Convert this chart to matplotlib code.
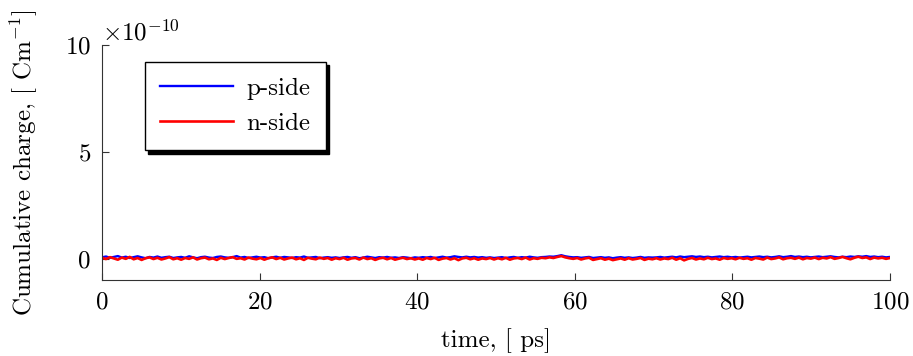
import numpy as np
import matplotlib
matplotlib.use("Agg")
import matplotlib.pyplot as plt
from matplotlib.ticker import ScalarFormatter

# Cumulative charge, units of 1e-10 C/m, sampled evenly over 0..100 ps
p_side = [
    0.06, 0.10, 0.04, 0.08, 0.12, 0.05, 0.09, 0.03, 0.07, 0.11, 0.06, 0.02, 0.08, 0.05, 0.10, 0.04, 0.07, 0.09, 0.03, 0.06,
    0.08, 0.04, 0.11, 0.06, 0.02, 0.07, 0.09, 0.05, 0.03, 0.08, 0.10, 0.06, 0.04, 0.07, 0.12, 0.05, 0.08, 0.03, 0.06, 0.09,
    0.05, 0.07, 0.02, 0.06, 0.09, 0.04, 0.08, 0.06, 0.03, 0.07, 0.05, 0.10, 0.04, 0.06, 0.08, 0.02, 0.05, 0.07, 0.04, 0.06,
    0.03, 0.06, 0.08, 0.04, 0.07, 0.02, 0.05, 0.09, 0.06, 0.03, 0.07, 0.05, 0.08, 0.04, 0.06, 0.03, 0.07, 0.05, 0.02, 0.06,
    0.04, 0.07, 0.05, 0.08, 0.03, 0.06, 0.09, 0.05, 0.07, 0.11, 0.08, 0.06, 0.09, 0.06, 0.08, 0.05, 0.07, 0.04, 0.06, 0.03,
    0.05, 0.07, 0.03, 0.06, 0.08, 0.04, 0.07, 0.05, 0.09, 0.06, 0.04, 0.07, 0.08, 0.10, 0.09, 0.12, 0.16, 0.11, 0.08, 0.06,
    0.07, 0.04, 0.06, 0.08, 0.03, 0.05, 0.07, 0.04, 0.06, 0.02, 0.05, 0.07, 0.04, 0.06, 0.03, 0.05, 0.08, 0.04, 0.06, 0.05,
    0.06, 0.08, 0.05, 0.07, 0.09, 0.06, 0.10, 0.07, 0.09, 0.11, 0.08, 0.10, 0.07, 0.09, 0.06, 0.08, 0.10, 0.07, 0.09, 0.06,
    0.08, 0.05, 0.07, 0.09, 0.06, 0.08, 0.10, 0.07, 0.09, 0.06, 0.08, 0.11, 0.07, 0.09, 0.12, 0.08, 0.10, 0.07, 0.09, 0.06,
    0.08, 0.10, 0.07, 0.09, 0.11, 0.08, 0.06, 0.09, 0.07, 0.10, 0.08, 0.11, 0.09, 0.12, 0.08, 0.10, 0.07, 0.09, 0.06, 0.08,
]
n_side = [
    0.04, -0.02, 0.07, 0.01, -0.05, 0.05, -0.01, 0.08, -0.03, 0.03, -0.06, 0.02, 0.06, -0.02, 0.04, -0.04, 0.01, 0.07, -0.03, 0.02,
    -0.05, 0.03, -0.01, 0.06, -0.04, 0.02, 0.05, -0.03, 0.01, -0.06, 0.04, -0.02, 0.03, 0.07, -0.01, 0.02, -0.04, 0.05, 0.00, -0.03,
    0.03, -0.05, 0.02, 0.06, -0.02, 0.04, -0.04, 0.01, 0.05, -0.03, 0.02, -0.06, 0.04, 0.00, -0.03, 0.05, -0.01, 0.03, -0.05, 0.02,
    -0.02, 0.04, -0.05, 0.01, 0.03, -0.04, 0.05, -0.02, 0.02, -0.06, 0.01, 0.04, -0.03, 0.03, -0.05, 0.00, 0.04, -0.02, 0.02, -0.04,
    0.01, -0.05, 0.03, -0.02, 0.04, -0.06, 0.00, 0.03, -0.04, 0.02, -0.07, 0.01, 0.04, -0.03, 0.02, -0.05, 0.01, -0.02, 0.03, -0.04,
    0.02, -0.03, 0.04, -0.05, 0.01, 0.03, -0.02, 0.05, -0.04, 0.02, -0.01, 0.04, 0.02, 0.06, 0.03, 0.08, 0.12, 0.06, 0.02, -0.01,
    0.03, -0.04, 0.01, 0.04, -0.06, -0.02, 0.02, -0.05, 0.00, -0.07, -0.03, 0.01, -0.05, 0.02, -0.04, -0.01, 0.03, -0.06, 0.00, -0.03,
    0.02, -0.04, 0.01, -0.02, 0.04, -0.05, 0.02, -0.08, -0.01, 0.03, -0.04, 0.01, -0.03, 0.04, -0.02, 0.01, -0.05, 0.03, -0.01, 0.02,
    -0.03, 0.04, -0.01, 0.02, -0.05, 0.03, 0.00, -0.04, 0.05, -0.02, 0.01, 0.06, -0.03, 0.02, 0.04, -0.01, 0.05, -0.03, 0.03, 0.00,
    0.05, -0.02, 0.04, 0.01, 0.07, -0.01, 0.03, 0.08, 0.02, -0.03, 0.04, 0.09, 0.03, 0.06, -0.02, 0.05, 0.01, 0.04, -0.01, 0.03,
]
scale = 1e-10
x_ticks = [0, 20, 40, 60, 80, 100]
y_ticks = [0, 5e-10, 10e-10]
series_labels = ["p-side", "n-side"]


class FixedOrderFormatter(ScalarFormatter):
    def __init__(self, order):
        self._order = order
        super().__init__(useMathText=True, useOffset=False)

    def _set_order_of_magnitude(self):
        self.orderOfMagnitude = self._order

    def _set_format(self):
        self.format = "%d"
        if self._useMathText:
            self.format = r"$\mathdefault{%s}$" % self.format


plt.rcParams.update({
    "font.family": "serif",
    "font.serif": ["cmr10", "DejaVu Serif"],
    "mathtext.fontset": "cm",
    "axes.formatter.use_mathtext": True,
    "font.size": 18,
})

fig = plt.figure(figsize=(9.13, 3.56), dpi=100)
ax = fig.add_axes([102 / 913, 1 - 280 / 356, 788 / 913, 235 / 356])

t_p = np.linspace(0, 100, len(p_side))
t_n = np.linspace(0, 100, len(n_side))
ax.plot(t_p, np.array(p_side) * scale, color="blue", lw=1.7, label=series_labels[0])
ax.plot(t_n, np.array(n_side) * scale, color="red", lw=1.9, label=series_labels[1])

ax.set_xlim(0, 100)
ax.set_ylim(-1e-10, 10e-10)
ax.set_xticks(x_ticks)
ax.set_yticks(y_ticks)
ax.yaxis.set_major_formatter(FixedOrderFormatter(-10))
ax.spines["top"].set_visible(False)
ax.spines["right"].set_visible(False)
for s in ("left", "bottom"):
    ax.spines[s].set_color("#333333")
    ax.spines[s].set_linewidth(0.8)
ax.tick_params(direction="in", length=5, width=0.8, color="#333333", labelsize=18, pad=8)
ax.yaxis.get_offset_text().set_fontsize(18)

ax.set_xlabel("time, [ ps]", fontsize=18, labelpad=11)
ax.set_ylabel("Cumulative charge, [ Cm$^{-1}$]", fontsize=18, labelpad=18)

leg = ax.legend(loc="upper left", bbox_to_anchor=(0.054, 0.928), fancybox=False,
                shadow={"color": "black", "alpha": 1.0, "ox": 2.5, "oy": -2.5},
                edgecolor="black", framealpha=1, fontsize=18,
                handlelength=2.9, borderpad=0.62, labelspacing=0.5, handletextpad=0.55,
                borderaxespad=0)
leg.get_frame().set_linewidth(1.0)

fig.savefig("out.png", dpi=100)
